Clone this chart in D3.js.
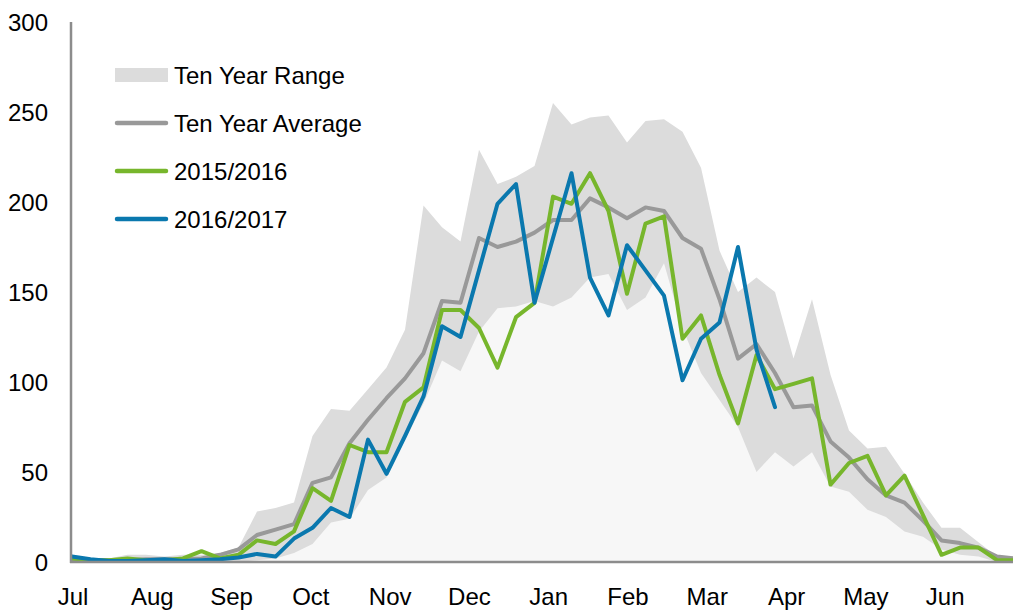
<!DOCTYPE html>
<html>
<head>
<meta charset="utf-8">
<script src="https://cdn.jsdelivr.net/npm/d3@7"></script>
<style>
  html, body { margin: 0; padding: 0; background: #ffffff; }
  svg { display: block; font-family: "Liberation Sans", Arial, sans-serif; }
</style>
</head>
<body>
<svg id="chart" width="1013" height="614"></svg>
<script>
// ---- data (weekly, July .. June) ----
const months = ["Jul","Aug","Sep","Oct","Nov","Dec","Jan","Feb","Mar","Apr","May","Jun"];
const yTicks = [0, 50, 100, 150, 200, 250, 300];

const rangeMax = [2,2,2,4,4,3,4,4,5,8, 28,30,33,70,85,84,96,108,129,198,
                  186,178,229,210,214,220,255,243,247,248, 233,245,246,239,219,173,150,158,150,113,
                  146,104,73,63,64,49,33,19,19,11, 3,3];
const rangeMin = [0,0,0,0,0,0,0,0,0,0, 1,2,5,10,22,24,40,47,68,88,
                  112,106,128,141,142,145,142,147,158,160, 140,147,166,130,105,90,75,50,61,53,
                  61,42,39,29,25,17,14,7,4,3, 0,0];
const tenYearAvg = [1,1,1,1,1.5,1.5,1.5,2,4,7, 15,18,21,44,47,66,79,91,102,116,
                    145,144,180,175,178,183,190,190,202,197, 191,197,195,180,174,146,113,121,105,86,
                    87,67,58,46,37,33,23,12,10.5,8, 3,2];
const s2015 = [2,1,1,2,1,1,2,6,2,4, 12,10,17,41,34,65,61,61,89,97,
               140,140,130,108,136,144,203,199,216,195, 149,188,192,124,137,104,77,115,96,99,
               102,43,55,59,37,48,26,4,8,8, 1,1];
const s2016 = [3,1.5,0.5,0.5,1,1.5,0.5,1,1.5,2.5, 4.5,3,13,19,30,25,68,49,70,92,
               131,125,162,199,210,144,180,216,158,137, 176,162,148,101,124,133,175,118,86];

const legendItems = [
  {label: "Ten Year Range", type: "rect", color: "#dcdcdc"},
  {label: "Ten Year Average", type: "line", color: "#999999"},
  {label: "2015/2016", type: "line", color: "#77b62c"},
  {label: "2016/2017", type: "line", color: "#0a78ae"}
];

// ---- layout ----
const svg = d3.select("#chart");
const W = 1013, H = 614;
const x = d3.scaleLinear().domain([0, 51]).range([72, 72 + 18.5 * 51]);
const y = d3.scaleLinear().domain([0, 300]).range([562, 22]);
const weeksPerMonth = 30 / 7;
const FS = 24;

svg.append("defs").append("clipPath").attr("id", "clip")
  .append("rect").attr("x", 71).attr("y", 0).attr("width", W - 71).attr("height", 562);

const g = svg.append("g").attr("clip-path", "url(#clip)");

g.append("path")
  .datum(rangeMax)
  .attr("fill", "#dcdcdc")
  .attr("d", d3.area().x((d, i) => x(i)).y0(y(0)).y1(d => y(d)));
g.append("path")
  .datum(rangeMin)
  .attr("fill", "#f7f7f7")
  .attr("d", d3.area().x((d, i) => x(i)).y0(y(0)).y1(d => y(d)));

const line = d3.line().x((d, i) => x(i)).y(d => y(d));
const series = [
  {data: tenYearAvg, color: "#999999"},
  {data: s2015, color: "#77b62c"},
  {data: s2016, color: "#0a78ae"}
];
series.forEach(s => {
  g.append("path")
    .datum(s.data)
    .attr("fill", "none")
    .attr("stroke", s.color)
    .attr("stroke-width", 4)
    .attr("stroke-linejoin", "round")
    .attr("stroke-linecap", "round")
    .attr("d", line);
});

// axes
svg.append("line").attr("x1", 71).attr("x2", 71).attr("y1", y(300)).attr("y2", y(0) + 1)
  .attr("stroke", "#8c8c8c").attr("stroke-width", 2.5);
svg.append("line").attr("x1", 70).attr("x2", W).attr("y1", y(0)).attr("y2", y(0))
  .attr("stroke", "#8c8c8c").attr("stroke-width", 2.5);

svg.selectAll("text.ytick").data(yTicks).enter().append("text")
  .attr("class", "ytick")
  .attr("x", 48).attr("y", d => y(d)).attr("dy", "0.36em")
  .attr("text-anchor", "end")
  .attr("font-size", FS).attr("fill", "#000")
  .text(d => d);

svg.selectAll("text.xtick").data(months).enter().append("text")
  .attr("class", "xtick")
  .attr("x", (d, i) => x(i * weeksPerMonth) + 1).attr("y", 605)
  .attr("text-anchor", "middle")
  .attr("font-size", FS).attr("fill", "#000")
  .text(d => d);

const lg = svg.append("g");
legendItems.forEach((it, i) => {
  const cy = 75 + i * 48;
  if (it.type === "rect") {
    lg.append("rect").attr("x", 115).attr("y", cy - 7).attr("width", 53).attr("height", 14).attr("fill", it.color);
  } else {
    lg.append("line").attr("x1", 117).attr("x2", 166).attr("y1", cy).attr("y2", cy)
      .attr("stroke", it.color).attr("stroke-width", 4.5).attr("stroke-linecap", "round");
  }
  lg.append("text").attr("x", 174).attr("y", cy).attr("dy", "0.36em")
    .attr("font-size", FS).attr("fill", "#000").text(it.label);
});
</script>
</body>
</html>
